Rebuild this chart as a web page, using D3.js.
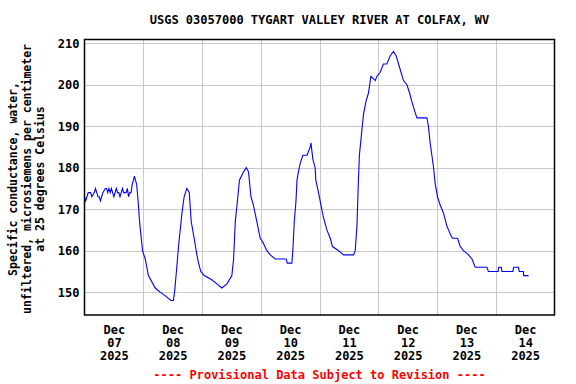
<!DOCTYPE html>
<html>
<head>
<meta charset="utf-8">
<script src="https://cdn.jsdelivr.net/npm/d3@7"></script>
<style>
  body { margin: 0; background: #fff; }
  text { font-family: "DejaVu Sans Mono", monospace; font-weight: bold; }
</style>
</head>
<body>
<svg id="chart" width="576" height="384"></svg>
<script>
// Specific conductance, hours after 2025-12-07 00:00
var hours = [0, 0.5, 1, 1.5, 2.5, 3, 4, 4.5, 5, 5.5, 6, 6.5, 7, 7.5, 8.5, 9, 9.5, 10, 10.5, 11,
  11.5, 12, 12.5, 13, 13.5, 14, 14.5, 15, 15.5, 16, 17, 17.5, 18, 18.5, 19, 19.5, 20, 20.4, 20.8, 21.3,
  21.9, 22.5, 23.7, 24.8, 26.1, 28.9, 30.9, 33.3, 35.3, 36.3, 36.8, 37.7, 38.4, 39.1, 39.8, 40.7, 41.8, 42.8,
  43.6, 44.8, 45.9, 46.6, 47.5, 48.9, 52.0, 54.1, 56.1, 58.2, 60.2, 60.9, 61.6, 62.3, 63.3, 65.0, 66.1,
  67.0, 68.0, 69.0, 70.4, 71.8, 72.9, 74.5, 75.9, 77.9, 82.4, 82.8, 84.7, 85.1, 85.7, 86.4, 86.8, 87.4,
  88.1, 89.2, 90.9, 92.2, 92.5, 93.3, 94.2, 94.5, 95.6, 96.6, 97.6, 99.0, 100.4, 101.3, 103.8, 105.8,
  109.9, 110.6, 111.3, 111.9, 112.3, 113.3, 114.0, 115.0, 116.0, 117.0, 118.8, 119.4, 120.8, 122.1,
  123.5, 124.9, 126.2, 127.3, 128.3, 129.3, 130.3, 131.7, 132.8, 133.7, 134.7, 135.8, 137.8, 139.9,
  140.5, 141.2, 141.9, 142.6, 143.3, 144.2, 145.3, 146.7, 148.0, 149.4, 150.3, 152.4, 153.5, 154.8,
  156.9, 158.3, 159.6, 164.4, 165.0, 169.0, 169.2, 170.3, 170.5, 175.0, 175.3, 177.3, 177.6, 179.3,
  179.4, 181.4];
var values = [173, 172, 173, 174, 174, 173, 174, 175, 174, 173, 173, 172, 173, 174, 175, 175, 174, 175, 174, 175,
  174, 173, 174, 175, 174, 174, 173, 174, 175, 174, 174, 175, 173, 174, 174, 176, 177, 178, 177, 176,
  172, 167, 160, 158, 154, 151, 150, 149, 148, 148, 150, 156, 161, 165, 169, 173, 175, 174,
  167, 163, 159, 157, 155, 154, 153, 152, 151, 152, 154, 158, 167, 171, 177, 179, 180,
  179, 173, 171, 167, 163, 162, 160, 159, 158, 158, 157, 157, 160, 167, 172, 177, 179,
  181, 183, 183, 185, 186, 182, 180, 177, 174, 171, 168, 165, 163, 161, 160, 159,
  159, 160, 166, 177, 183, 189, 193, 196, 198, 202, 201, 202, 203, 205,
  205, 207, 208, 207, 205, 203, 201, 200, 198, 196, 194, 192, 192, 192,
  190, 186, 183, 180, 176, 173, 171, 169, 166, 164, 163, 163, 161, 160,
  159, 158, 156, 156, 155, 155, 156, 156, 155, 155, 156, 156, 155, 155,
  154, 154];

var yTicks = [150, 160, 170, 180, 190, 200, 210];
var dayLabels = ["Dec\n07\n2025", "Dec\n08\n2025", "Dec\n09\n2025", "Dec\n10\n2025",
  "Dec\n11\n2025", "Dec\n12\n2025", "Dec\n13\n2025", "Dec\n14\n2025"];
var title = "USGS 03057000 TYGART VALLEY RIVER AT COLFAX, WV";
var yLabel = ["Specific conductance, water,", "unfiltered, microsiemens per centimeter", "at 25 degrees Celsius"];
var footer = "---- Provisional Data Subject to Revision ----";

var svg = d3.select('#chart');
var plotL = 84.5, plotR = 554.5, plotT = 39.5, plotB = 315;
var t0 = Date.UTC(2025, 11, 7);

var x = d3.scaleUtc()
  .domain([new Date(t0), new Date(Date.UTC(2025, 11, 15))])
  .range([plotL, plotR]);
var y = d3.scaleLinear()
  .domain([144.5, 210.9])
  .range([plotB, plotT]);

var data = hours.map(function(h, i) {
  return { date: new Date(t0 + h * 3600e3), value: values[i] };
});

// grid
var midnights = d3.utcDay.range(new Date(Date.UTC(2025, 11, 8)), new Date(Date.UTC(2025, 11, 15)));
var xGrid = svg.append('g')
  .attr('transform', 'translate(0,' + plotB + ')')
  .call(d3.axisBottom(x).tickValues(midnights).tickSize(-(plotB - plotT)).tickFormat(''));
xGrid.select('.domain').remove();
xGrid.selectAll('line').attr('stroke', '#c8c8c8').attr('shape-rendering', 'crispEdges');

var yAxis = svg.append('g')
  .attr('transform', 'translate(' + plotL + ',0)')
  .call(d3.axisLeft(y).tickValues(yTicks).tickSize(-(plotR - plotL)).tickPadding(5));
yAxis.select('.domain').remove();
yAxis.selectAll('line').attr('stroke', '#c8c8c8').attr('shape-rendering', 'crispEdges');
yAxis.selectAll('text').attr('font-size', 12).attr('fill', '#000')
  .style('font-family', '"DejaVu Sans Mono", monospace');

// x labels at noon
var noons = d3.utcDay.range(new Date(t0), new Date(Date.UTC(2025, 11, 15)))
  .map(function(d) { return d3.utcHour.offset(d, 12); });
var xAxis = svg.append('g')
  .attr('transform', 'translate(0,' + plotB + ')')
  .call(d3.axisBottom(x).tickValues(noons).tickSize(0).tickFormat(''));
xAxis.select('.domain').remove();
xAxis.selectAll('.tick').each(function(d, i) {
  var lines = dayLabels[i].split('\n');
  var txt = d3.select(this).append('text')
    .attr('text-anchor', 'middle').attr('font-size', 12).attr('fill', '#000');
  lines.forEach(function(l, k) {
    txt.append('tspan').attr('x', 0).attr('y', 19 + k * 13).text(l);
  });
});

// series
var line = d3.line()
  .x(function(d) { return x(d.date); })
  .y(function(d) { return y(d.value); });
svg.append('path')
  .datum(data)
  .attr('d', line)
  .attr('fill', 'none')
  .attr('stroke', '#0000ff')
  .attr('stroke-width', 1.1);

// frame
svg.append('rect')
  .attr('x', plotL).attr('y', plotT)
  .attr('width', plotR - plotL).attr('height', plotB - plotT)
  .attr('fill', 'none').attr('stroke', '#000').attr('stroke-width', 1.5);

// title
svg.append('text')
  .attr('x', (plotL + plotR) / 2).attr('y', 24)
  .attr('text-anchor', 'middle').attr('font-size', 12)
  .text(title);

// y label
var yl = svg.append('text')
  .attr('transform', 'translate(0,179) rotate(-90)')
  .attr('text-anchor', 'middle').attr('font-size', 11.5);
yLabel.forEach(function(l, k) {
  yl.append('tspan').attr('x', 0).attr('y', 17 + k * 13.5).text(l);
});

// footer
svg.append('text')
  .attr('x', (plotL + plotR) / 2).attr('y', 379)
  .attr('text-anchor', 'middle').attr('font-size', 12)
  .attr('fill', '#ff0000')
  .text(footer);
</script>
</body>
</html>
